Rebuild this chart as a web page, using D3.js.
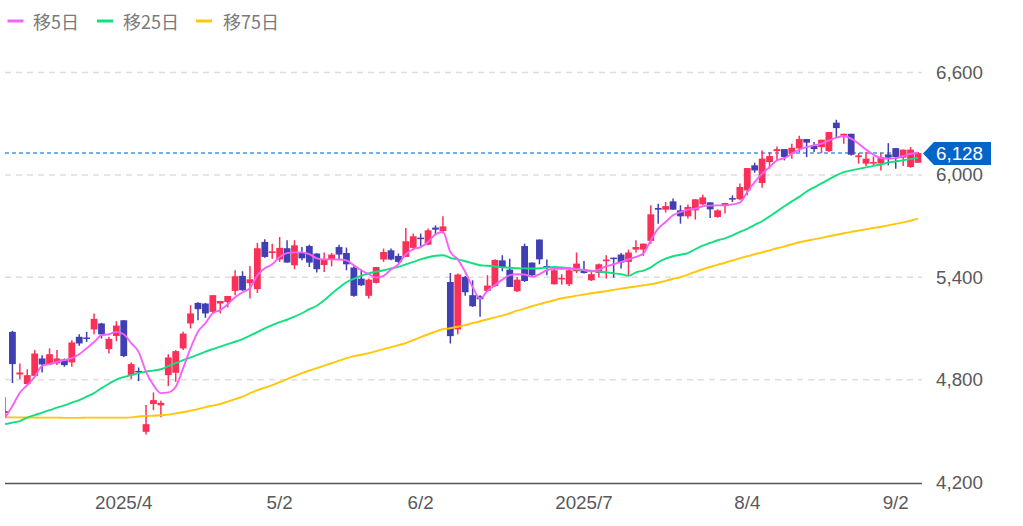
<!DOCTYPE html>
<html><head><meta charset="utf-8">
<script src="https://cdnjs.cloudflare.com/ajax/libs/d3/7.8.5/d3.min.js"></script>
<style>html,body{margin:0;padding:0;background:#fff;overflow:hidden}svg{display:block}</style>
</head><body><svg id="c" width="1023" height="526"></svg>
<script>
const opens=[4604,5080,4830,4774,4822,4924,4889,4895,4918,4901,5051,5047,5094,5129,4979,5056,5148,4826,4851,4494,4657,4649,4826,4840,4983,5129,5250,5246,5197,5246,5255,5320,5408,5365,5330,5607,5542,5504,5570,5470,5545,5583,5539,5472,5501,5577,5542,5457,5392,5291,5367,5504,5558,5525,5519,5572,5632,5591,5691,5671,5372,5094,5402,5295,5289,5320,5349,5499,5445,5318,5583,5486,5621,5466,5359,5387,5359,5435,5445,5382,5425,5494,5515,5533,5490,5562,5562,5613,5806,5796,5845,5792,5757,5792,5827,5839,5753,5817,5864,5857,5909,6056,5952,6075,6139,6151,6124,6155,6210,6171,6163,6139,6306,6230,6241,6104,6066,6066,6066,6120,6157,6101,6046,6071];
const highs=[4698,5086,4895,4861,4973,4943,4983,4973,4924,5031,5066,5080,5188,5133,5051,5142,5148,4901,4871,4651,4725,4676,4949,4973,5080,5236,5254,5250,5295,5261,5290,5441,5435,5466,5601,5622,5597,5636,5617,5617,5577,5591,5540,5545,5542,5591,5574,5464,5445,5392,5460,5568,5568,5539,5689,5656,5656,5685,5704,5757,5425,5422,5408,5382,5295,5412,5505,5529,5509,5402,5597,5486,5621,5504,5451,5418,5451,5545,5495,5441,5480,5529,5515,5542,5562,5617,5597,5822,5831,5841,5861,5822,5827,5857,5884,5839,5798,5835,5880,5949,6040,6071,6143,6134,6167,6151,6183,6230,6210,6192,6206,6251,6323,6241,6241,6128,6134,6108,6130,6186,6157,6148,6163,6134];
const lows=[4575,4780,4803,4768,4816,4842,4885,4885,4875,4875,4998,5021,5066,5041,4953,5025,4933,4803,4791,4479,4621,4579,4762,4787,4973,5100,5148,5162,5188,5188,5223,5295,5320,5275,5308,5515,5509,5490,5486,5447,5499,5460,5428,5431,5464,5505,5441,5285,5349,5275,5363,5490,5499,5484,5519,5558,5581,5587,5646,5656,5012,5066,5291,5226,5168,5314,5343,5435,5343,5314,5372,5406,5476,5412,5357,5357,5349,5425,5422,5378,5398,5392,5398,5451,5408,5545,5525,5597,5714,5779,5796,5714,5744,5738,5822,5747,5749,5773,5841,5851,5880,6013,5925,6036,6085,6085,6095,6134,6104,6134,6128,6134,6221,6183,6114,6066,6052,6056,6026,6056,6036,6052,6042,6069];
const closes=[4616,4891,4842,4826,4953,4889,4949,4924,4885,5018,5012,5039,5156,5065,5039,5117,4938,4891,4844,4539,4680,4664,4930,4967,5070,5188,5213,5188,5295,5261,5290,5406,5324,5388,5570,5519,5552,5572,5486,5587,5511,5486,5447,5501,5533,5533,5476,5291,5353,5386,5460,5548,5504,5490,5611,5640,5624,5675,5679,5698,5055,5416,5312,5230,5271,5351,5501,5457,5343,5386,5378,5412,5505,5457,5441,5396,5441,5480,5425,5418,5476,5504,5507,5486,5545,5577,5597,5769,5796,5817,5796,5757,5812,5857,5868,5798,5792,5835,5855,5929,6040,6026,6095,6110,6151,6104,6159,6210,6189,6151,6206,6251,6274,6241,6118,6114,6095,6075,6104,6101,6104,6148,6148,6128];
const ma5=[4576,4645,4723,4768,4816,4881,4891,4904,4914,4926,4949,4984,5020,5060,5066,5080,5066,5014,4963,4846,4768,4721,4725,4758,4867,4984,5080,5131,5189,5207,5242,5283,5312,5336,5412,5453,5476,5519,5541,5546,5546,5535,5511,5505,5505,5504,5499,5470,5441,5418,5398,5408,5445,5476,5535,5564,5577,5607,5652,5665,5548,5505,5431,5343,5275,5320,5353,5386,5412,5418,5416,5402,5418,5441,5449,5449,5451,5449,5441,5435,5445,5464,5476,5490,5504,5519,5539,5617,5685,5724,5763,5782,5796,5802,5816,5820,5821,5821,5827,5837,5899,5958,6007,6046,6085,6098,6124,6148,6163,6173,6183,6202,6218,6226,6212,6183,6148,6118,6098,6095,6098,6110,6124,6130];
const ma25=[4539,4548,4557,4577,4592,4607,4621,4636,4649,4665,4680,4700,4721,4750,4776,4800,4815,4826,4838,4847,4853,4861,4879,4896,4914,4930,4946,4964,4979,4993,5008,5022,5038,5058,5078,5101,5119,5137,5151,5169,5189,5213,5233,5265,5303,5338,5371,5391,5409,5423,5432,5441,5451,5461,5476,5490,5505,5517,5526,5529,5514,5505,5494,5482,5470,5467,5463,5458,5456,5453,5452,5451,5453,5457,5460,5458,5453,5447,5442,5438,5434,5429,5423,5418,5408,5429,5439,5458,5488,5509,5523,5532,5542,5564,5585,5601,5617,5628,5646,5666,5684,5707,5728,5757,5786,5816,5845,5871,5903,5927,5950,5974,5997,6016,6026,6035,6044,6053,6061,6073,6079,6085,6092,6100];
const ma75=[4579,4579,4578,4578,4578,4577,4577,4577,4576,4576,4576,4577,4577,4577,4577,4577,4577,4579,4584,4587,4588,4591,4595,4602,4609,4618,4627,4639,4648,4657,4671,4686,4700,4721,4738,4753,4768,4785,4803,4820,4838,4853,4867,4882,4896,4911,4926,4938,4946,4955,4967,4979,4990,5002,5014,5031,5049,5066,5081,5096,5101,5110,5119,5131,5142,5154,5165,5175,5189,5204,5216,5230,5242,5254,5265,5277,5284,5292,5299,5306,5312,5319,5326,5333,5340,5346,5353,5359,5368,5379,5391,5400,5415,5432,5447,5460,5473,5485,5498,5511,5523,5535,5546,5558,5570,5581,5593,5605,5614,5622,5631,5640,5649,5658,5666,5673,5681,5689,5696,5704,5713,5722,5731,5744];
const yTicks=[6600,6000,5400,4800,4200];
const xTickIdx=[16,37,56,78,100,120];
const xTickLabels=["2025/4","5/2","6/2","2025/7","8/4","9/2"];
const lastPrice=6128;
const legendNames=["移5日","移25日","移75日"];
const legendColors=["#f562fb","#12e07e","#ffc60a"];
const legendMarkX=[7.5,97,196];
const legendTextX=[33,123,223];

const svg=d3.select("#c");
const fontJ='"Noto Sans CJK JP","Noto Sans",sans-serif';
const fontN='"Liberation Sans",Arial,sans-serif';
const x=d3.scaleLinear().domain([0,opens.length-1]).range([5,918]);
const y=d3.scaleLinear().domain([4200,6600]).range([482,72.5]);
const L=5,R=922;

svg.append("defs").append("clipPath").attr("id","plot").append("rect")
  .attr("x",L).attr("y",0).attr("width",R-L).attr("height",526);

// grid
svg.append("g").selectAll("line").data(yTicks.slice(0,4)).join("line")
  .attr("x1",L).attr("x2",R).attr("y1",d=>y(d)).attr("y2",d=>y(d))
  .attr("stroke","#dedede").attr("stroke-width",1.5).attr("stroke-dasharray","6 5");
// y axis labels
svg.append("g").selectAll("text").data(yTicks).join("text")
  .attr("x",936).attr("y",d=>y(d)+6.5).text(d3.format(","))
  .attr("font-family",fontN).attr("font-size",18.8).attr("fill","#595959");
// baseline
svg.append("line").attr("x1",L).attr("x2",R).attr("y1",483.5).attr("y2",483.5)
  .attr("stroke","#555").attr("stroke-width",1.3);
// x labels
svg.append("g").selectAll("text").data(xTickIdx).join("text")
  .attr("x",d=>x(d)).attr("y",509).attr("text-anchor","middle")
  .text((d,i)=>xTickLabels[i]).attr("font-family",fontN).attr("font-size",18.8).attr("fill","#595959");
// last price line
svg.append("line").attr("x1",L).attr("x2",R).attr("y1",y(lastPrice)).attr("y2",y(lastPrice))
  .attr("stroke","#4a94e0").attr("stroke-width",1.4).attr("stroke-dasharray","4 3");

const g=svg.append("g").attr("clip-path","url(#plot)");
const idx=d3.range(opens.length);
const color=i=>closes[i]>=opens[i]?"#fb3058":"#4040b4";
g.append("g").selectAll("line").data(idx).join("line")
  .attr("x1",i=>x(i)).attr("x2",i=>x(i)).attr("y1",i=>y(highs[i])).attr("y2",i=>y(lows[i]))
  .attr("stroke",color).attr("stroke-width",1.5);
g.append("g").selectAll("rect").data(idx).join("rect")
  .attr("x",i=>x(i)-3.4).attr("width",6.8)
  .attr("y",i=>y(Math.max(opens[i],closes[i])))
  .attr("height",i=>Math.max(1.5,Math.abs(y(opens[i])-y(closes[i]))))
  .attr("fill",color);
const line=d3.line().x((d,i)=>x(i)).y(d=>y(d));
[[ma75,legendColors[2]],[ma25,legendColors[1]],[ma5,legendColors[0]]].forEach(([s,c])=>{
  g.append("path").attr("d",line.curve(d3.curveMonotoneX)(s)).attr("fill","none").attr("stroke",c).attr("stroke-width",1.9).attr("stroke-linejoin","round");
});

// legend
const lg=svg.append("g");
legendNames.forEach((n,i)=>{
  lg.append("line").attr("x1",legendMarkX[i]).attr("x2",legendMarkX[i]+16).attr("y1",21).attr("y2",21)
    .attr("stroke",legendColors[i]).attr("stroke-width",3);
  lg.append("text").attr("x",legendTextX[i]).attr("y",29).text(n)
    .attr("font-family",fontJ).attr("font-size",18).attr("fill","#7a7a7a");
});

// tag
const ty=y(lastPrice)+0.5;
svg.append("path").attr("d",d3.line()([[923,ty],[934,ty-11.5],[991,ty-11.5],[991,ty+11.5],[934,ty+11.5]])+"Z").attr("fill","#0564c8");
svg.append("text").attr("x",936).attr("y",ty+6.5).text(d3.format(",")(lastPrice))
  .attr("font-family",fontN).attr("font-size",18.8).attr("fill","#fff");
</script></body></html>
